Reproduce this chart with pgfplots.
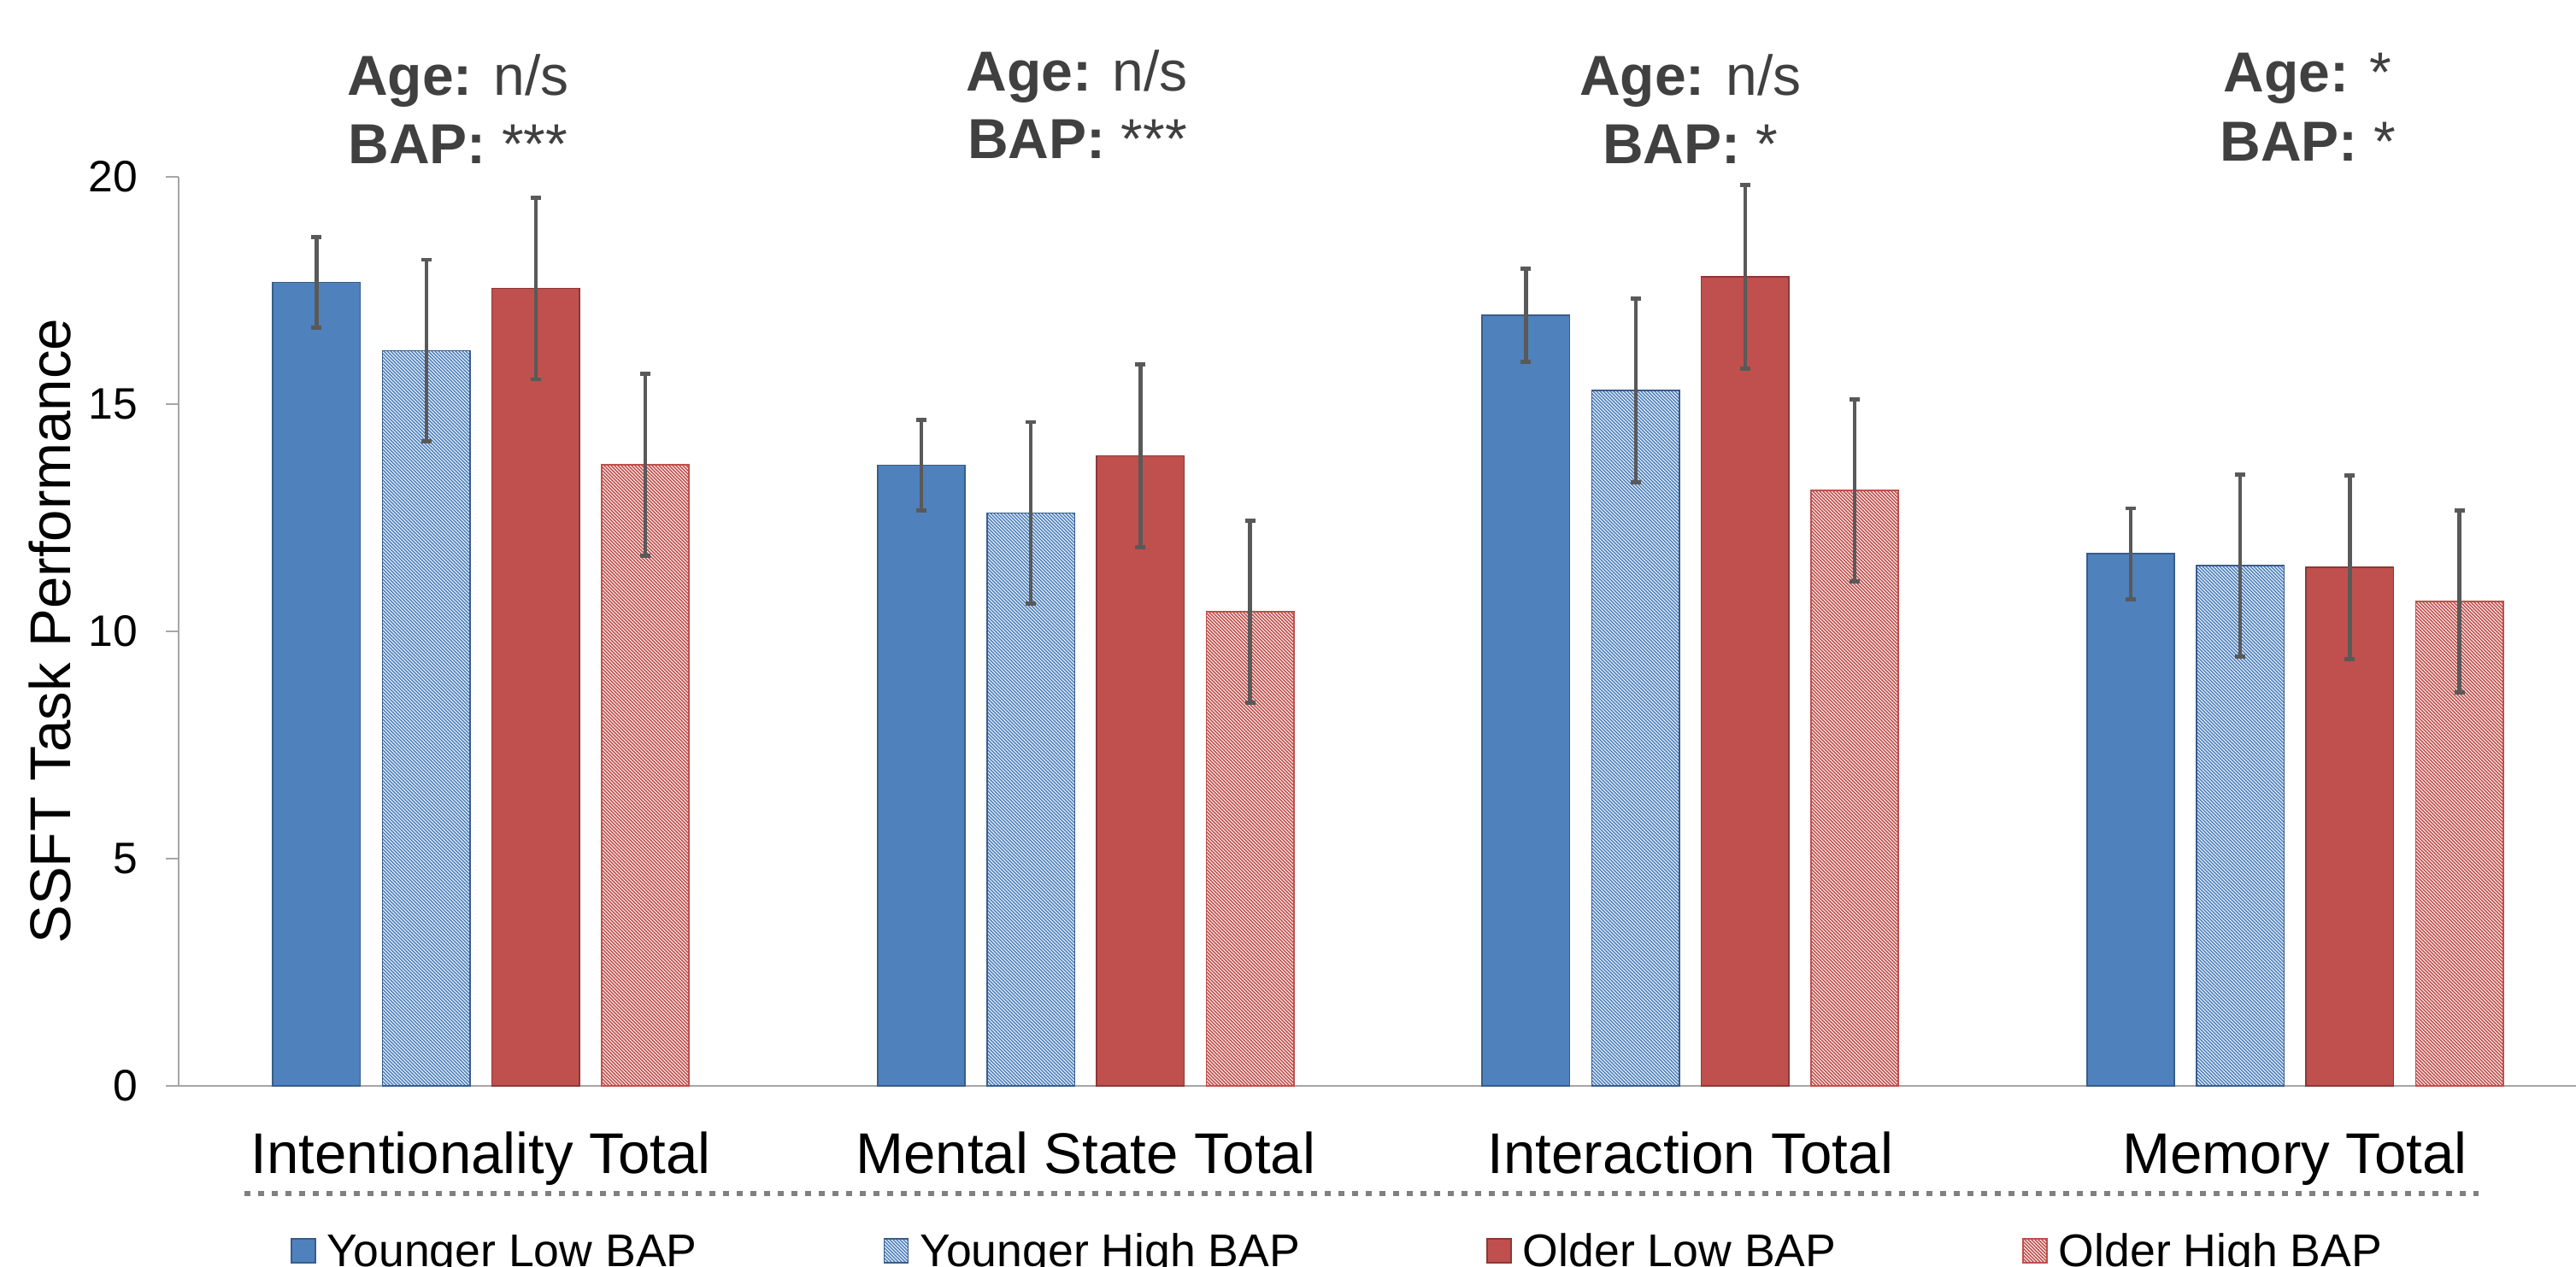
\documentclass[border=0pt]{standalone}
\usepackage{fontspec}
\setmainfont{Liberation Sans}
\usepackage{pgfplots}
\pgfplotsset{compat=1.18}
\usepackage{pgfplotstable}
\usetikzlibrary{patterns.meta}
\definecolor{blueA}{HTML}{4F81BD}
\definecolor{blueD}{HTML}{385D8A}
\definecolor{redA}{HTML}{C0504D}
\definecolor{redD}{HTML}{8C3836}
\definecolor{axgray}{HTML}{A6A6A6}
\definecolor{errgray}{HTML}{595959}
\definecolor{anngray}{HTML}{404040}
\definecolor{dashgray}{HTML}{808080}

\pgfplotstableread{
x y e
0 17.67 1.00
1 13.65 1.00
2 16.95 1.03
3 11.70 1.00
}\ylow
\pgfplotstableread{
x y e
0 16.17 2.00
1 12.60 2.00
2 15.30 2.02
3 11.44 2.00
}\yhigh
\pgfplotstableread{
x y e
0 17.54 2.00
1 13.86 2.01
2 17.80 2.02
3 11.40 2.02
}\olow
\pgfplotstableread{
x y e
0 13.66 2.00
1 10.43 2.00
2 13.10 2.00
3 10.65 2.00
}\ohigh

\begin{document}
\begin{tikzpicture}
\useasboundingbox (0,0) rectangle (753.5pt,370.5pt);
\clip (0,0) rectangle (753.5pt,370.5pt);
\begin{axis}[
  at={(52.25pt,52.83pt)}, anchor=south west,
  scale only axis, width=701.25pt, height=266pt,
  xmin=-0.5, xmax=3.4647, ymin=0, ymax=20,
  axis x line*=bottom, axis y line*=left,
  axis line style={draw=axgray, line width=0.45pt, -},
  ybar=6.45pt, bar width=25.6pt,
  clip=false,
  xtick={0,1,2,3},
  xticklabels={Intentionality Total, Mental State Total, Interaction Total, Memory Total},
  xtick style={draw=none},
  ytick={0,5,10,15,20},
  tick align=outside, major tick length=3.75pt,
  ytick style={draw=axgray, line width=0.45pt},
  /pgf/number format/assume math mode=true,
  yticklabel style={font=\fontsize{12.9}{15}\selectfont, anchor=east, inner sep=0pt, xshift=-8pt},
  xticklabel style={font=\fontsize{16.8}{20}\selectfont, anchor=base, inner sep=0pt, yshift=-21.85pt},
  ylabel={SSFT Task Performance},
  ylabel style={font=\fontsize{16.8}{20}\selectfont, at={(axis description cs:-0.04528,0.5)}, anchor=base},
  legend columns=4,
  legend style={at={(axis description cs:0.0467,-0.19861)}, anchor=south west, draw=none, fill=none,
    inner sep=0pt, outer sep=0pt, font=\fontsize{13.4}{15}\selectfont,
    cells={anchor=base}, nodes={inner sep=0pt, text depth=0pt},
    /tikz/every odd column/.append style={column sep=3.25pt},
    /tikz/every even column/.append style={column sep=54.5pt}},
  legend image code/.code={\draw[#1] (0pt,1pt) rectangle (7pt,8pt);},
  error bars/error mark=|,
  error bars/error bar style={line width=1.07pt, color=errgray},
  error bars/error mark options={line width=1.2pt, mark size=1.5pt, color=errgray},
]
\addplot[fill=blueA, draw=blueD, line width=0.4pt,
  error bars/.cd, y dir=both, y explicit] table[x=x, y=y, y error=e]{\ylow};
\addlegendentry{Younger Low BAP}
\addplot[pattern={Lines[angle=-45,distance=0.7071pt,line width=0.42pt]}, pattern color=blueA, draw=blueD, line width=0.4pt,
  error bars/.cd, y dir=both, y explicit] table[x=x, y=y, y error=e]{\yhigh};
\addlegendentry{Younger High BAP}
\addplot[fill=redA, draw=redD, line width=0.4pt,
  error bars/.cd, y dir=both, y explicit] table[x=x, y=y, y error=e]{\olow};
\addlegendentry{Older Low BAP}
\addplot[pattern={Lines[angle=-45,distance=0.7071pt,line width=0.42pt]}, pattern color=redA, draw=redA, line width=0.4pt,
  error bars/.cd, y dir=both, y explicit] table[x=x, y=y, y error=e]{\ohigh};
\addlegendentry{Older High BAP}

\draw[dashgray, line width=1.7pt, dash pattern=on 1.7pt off 2.3pt] (axis cs:-0.391,-2.374) -- (axis cs:3.3035,-2.374);

\tikzset{ann/.style={anchor=base, inner sep=0pt, text=anngray, font=\fontsize{16.5}{20}\selectfont}}
\node[ann] at (axis cs:-0.038,21.78) {\textbf{Age:} n/s};
\node[ann] at (axis cs:-0.038,20.28) {\textbf{BAP:} ***};
\node[ann] at (axis cs:0.986,21.89) {\textbf{Age:} n/s};
\node[ann] at (axis cs:0.986,20.39) {\textbf{BAP:} ***};
\node[ann] at (axis cs:2.0,21.78) {\textbf{Age:} n/s};
\node[ann] at (axis cs:2.0,20.28) {\textbf{BAP:} *};
\node[ann] at (axis cs:3.021,21.87) {\textbf{Age:} *};
\node[ann] at (axis cs:3.021,20.35) {\textbf{BAP:} *};
\end{axis}
\end{tikzpicture}
\end{document}
